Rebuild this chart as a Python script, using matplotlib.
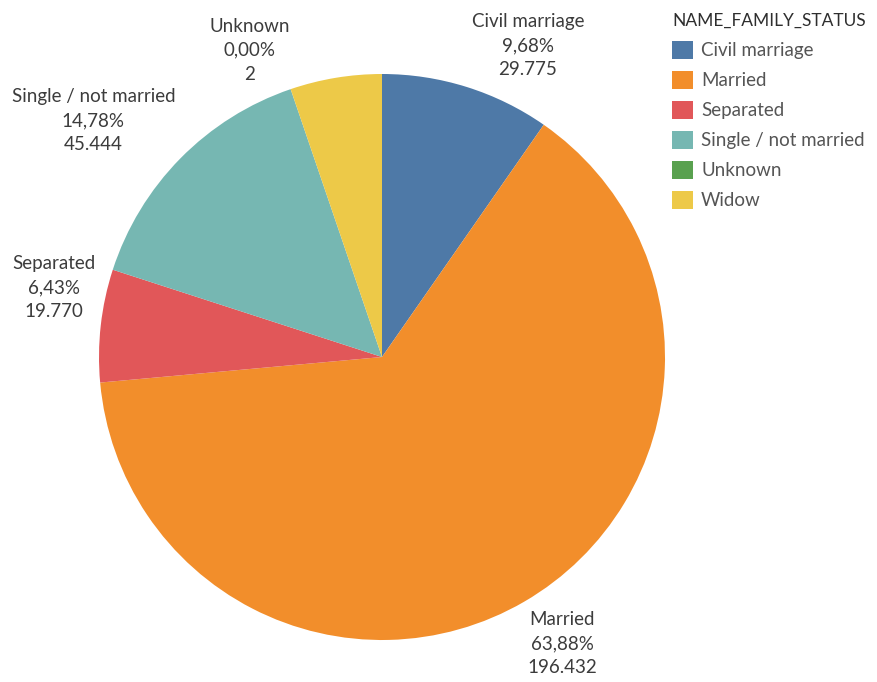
import numpy as np
import matplotlib
matplotlib.use("Agg")
import matplotlib.pyplot as plt
from matplotlib.patches import Patch

plt.rcParams["font.family"] = ["Lato", "DejaVu Sans"]

# family status counts
statuses = ["Civil marriage", "Married", "Separated", "Single / not married", "Unknown", "Widow"]
counts = [29775, 196432, 19770, 45444, 2, 16088]
colors = ["#4e79a7", "#f28e2b", "#e15759", "#76b7b2", "#59a14f", "#edc948"]

# label offsets from the wedge edge (pixels); Widow gets no label
label_offsets = {
    "Civil marriage": (61, 41),
    "Married": (38, -42),
    "Separated": (-47, 38),
    "Single / not married": (-87, 38),
    "Unknown": (-41, 39),
}

fig = plt.figure(figsize=(8.77, 6.82), dpi=100)
ax = fig.add_axes([99 / 877, 42 / 682, 566 / 877, 566 / 682])

wedges, _ = ax.pie(counts, colors=colors, startangle=90, counterclock=False,
                   radius=1.0, wedgeprops=dict(linewidth=0))
ax.set_xlim(-1, 1)
ax.set_ylim(-1, 1)
ax.set_aspect("equal")
ax.axis("off")

total = sum(counts)
for w, name, n in zip(wedges, statuses, counts):
    if name not in label_offsets:
        continue
    mid = np.deg2rad((w.theta1 + w.theta2) / 2)
    xy = (np.cos(mid), np.sin(mid))
    pct = f"{100 * n / total:.2f}%".replace(".", ",")
    cnt = f"{n:,}".replace(",", ".")
    ax.annotate(f"{name}\n{pct}\n{cnt}", xy=xy, xytext=label_offsets[name],
                textcoords="offset pixels", ha="center", va="center",
                fontsize=13.5, color="#3c3c3c", linespacing=1.5,
                annotation_clip=False)

handles = [Patch(facecolor=c, edgecolor="none") for c in colors]
leg = fig.legend(handles, statuses, title="NAME_FAMILY_STATUS",
                 loc="upper left", bbox_to_anchor=(672 / 877, 1 - 13 / 682),
                 frameon=False, fontsize=13.5, title_fontsize=12.5,
                 handlelength=1.1, handleheight=1.1, handletextpad=0.45,
                 labelspacing=0.62, borderaxespad=0, borderpad=0,
                 alignment="left")
leg.get_title().set_color("#2e2e2e")
for t in leg.get_texts():
    t.set_color("#555555")

fig.savefig("out.png", dpi=100)
